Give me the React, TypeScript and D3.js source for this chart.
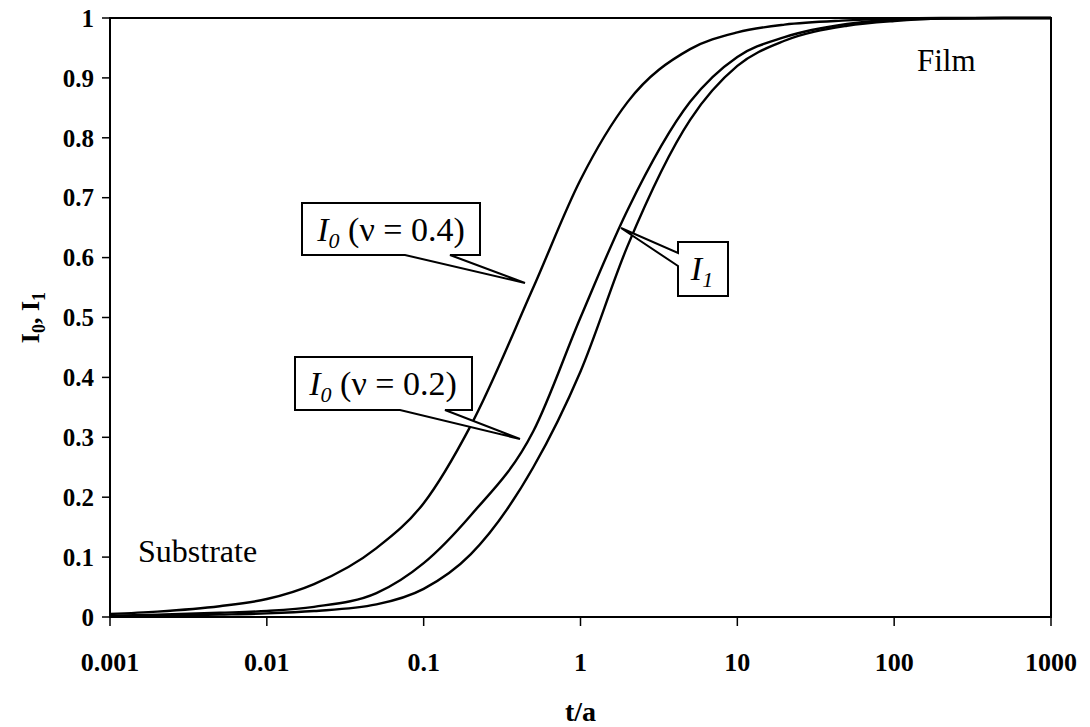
import React from "react";
import * as d3 from "d3";

const tValues = [0.001, 0.002, 0.005, 0.01, 0.02, 0.05, 0.1, 0.2, 0.5, 1, 2, 5, 10, 20, 50, 100, 200, 500, 1000];
const i0Nu04 = [0.005, 0.009, 0.018, 0.03, 0.055, 0.115, 0.19, 0.32, 0.55, 0.73, 0.86, 0.948, 0.976, 0.989, 0.996, 0.999, 1, 1, 1];
const i0Nu02 = [0.002, 0.004, 0.007, 0.01, 0.017, 0.04, 0.09, 0.17, 0.31, 0.5, 0.68, 0.86, 0.935, 0.968, 0.99, 0.997, 0.999, 1, 1];
const i1Vals = [0.001, 0.002, 0.004, 0.006, 0.01, 0.021, 0.047, 0.105, 0.25, 0.41, 0.62, 0.83, 0.92, 0.962, 0.987, 0.995, 0.999, 1, 1];

const xTicks = [0.001, 0.01, 0.1, 1, 10, 100, 1000];
const xTickLabels = ["0.001", "0.01", "0.1", "1", "10", "100", "1000"];
const yTicks = [0, 0.1, 0.2, 0.3, 0.4, 0.5, 0.6, 0.7, 0.8, 0.9, 1];
const yTickLabels = ["0", "0.1", "0.2", "0.3", "0.4", "0.5", "0.6", "0.7", "0.8", "0.9", "1"];

const W = 1090;
const H = 727;
const left = 110, right = 1051, top = 18, bottom = 617;
const FONT = "'Liberation Serif', 'Times New Roman', serif";

export default function App() {
  const x = d3.scaleLog().domain([0.001, 1000]).range([left, right]);
  const y = d3.scaleLinear().domain([0, 1]).range([bottom, top]);
  const line = d3
    .line<[number, number]>()
    .x((d) => x(d[0]))
    .y((d) => y(d[1]))
    .curve(d3.curveMonotoneX);
  const series = [i0Nu04, i0Nu02, i1Vals].map((vals) =>
    line(tValues.map((t, i) => [t, vals[i]] as [number, number])) || ""
  );

  const boxBottomWedge = (bx0: number, by0: number, bx1: number, by1: number, w0: number, w1: number, tx: number, ty: number) =>
    `M${bx0},${by0} L${bx1},${by0} L${bx1},${by1} L${w1},${by1} L${tx},${ty} L${w0},${by1} L${bx0},${by1} Z`;
  const boxLeftWedge = (bx0: number, by0: number, bx1: number, by1: number, w0: number, w1: number, tx: number, ty: number) =>
    `M${bx0},${by0} L${bx1},${by0} L${bx1},${by1} L${bx0},${by1} L${bx0},${w1} L${tx},${ty} L${bx0},${w0} Z`;

  return (
    <svg width={W} height={H} style={{ position: "absolute", left: 0, top: 0, background: "#fff" }} fontFamily={FONT}>
      <rect x={0} y={0} width={W} height={H} fill="#fff" />
      {series.map((d, i) => (
        <path key={i} d={d} fill="none" stroke="#000" strokeWidth={2.4} />
      ))}
      <rect x={left} y={top} width={right - left} height={bottom - top} fill="none" stroke="#000" strokeWidth={2} />
      {yTicks.map((v, i) => (
        <g key={"y" + i}>
          <line x1={left - 8} x2={left} y1={y(v)} y2={y(v)} stroke="#000" strokeWidth={1.5} />
          <text x={94} y={y(v)} dy="0.35em" textAnchor="end" fontSize={25} fontWeight="bold">
            {yTickLabels[i]}
          </text>
        </g>
      ))}
      {xTicks.map((v, i) => (
        <g key={"x" + i}>
          <line x1={x(v)} x2={x(v)} y1={bottom} y2={bottom + 9} stroke="#000" strokeWidth={1.5} />
          <text x={x(v)} y={662} dy="0.35em" textAnchor="middle" fontSize={26} fontWeight="bold">
            {xTickLabels[i]}
          </text>
        </g>
      ))}
      <text x={(left + right) / 2} y={711} dy="0.35em" textAnchor="middle" fontSize={28} fontWeight="bold">
        t/a
      </text>
      <text transform={`translate(30,${(top + bottom) / 2}) rotate(-90)`} textAnchor="middle" fontSize={26} fontWeight="bold" dy="0.35em">
        I<tspan fontSize={18} dy="6">0</tspan>
        <tspan dy="-6">, I</tspan>
        <tspan fontSize={18} dy="6">1</tspan>
      </text>
      <text x={138} y={551} dy="0.35em" fontSize={32}>Substrate</text>
      <text x={917} y={60} dy="0.35em" fontSize={31}>Film</text>

      <path d={boxBottomWedge(302, 203, 480, 255, 405, 450, 525, 283)} fill="#fff" stroke="#000" strokeWidth={2} strokeLinejoin="miter" />
      <text x={391} y={229} dy="0.35em" textAnchor="middle" fontSize={34}>
        <tspan fontStyle="italic">I</tspan>
        <tspan fontStyle="italic" fontSize={22} dy="7">0</tspan>
        <tspan dy="-7">{" (\u03bd = 0.4)"}</tspan>
      </text>

      <path d={boxBottomWedge(295, 357, 472, 410, 400, 445, 520, 439)} fill="#fff" stroke="#000" strokeWidth={2} strokeLinejoin="miter" />
      <text x={383} y={383} dy="0.35em" textAnchor="middle" fontSize={34}>
        <tspan fontStyle="italic">I</tspan>
        <tspan fontStyle="italic" fontSize={22} dy="7">0</tspan>
        <tspan dy="-7">{" (\u03bd = 0.2)"}</tspan>
      </text>

      <path d={boxLeftWedge(678, 242, 728, 296, 253, 266, 621, 228)} fill="#fff" stroke="#000" strokeWidth={2} strokeLinejoin="miter" />
      <text x={702} y={268} dy="0.35em" textAnchor="middle" fontSize={34}>
        <tspan fontStyle="italic">I</tspan>
        <tspan fontStyle="italic" fontSize={22} dy="7">1</tspan>
      </text>
    </svg>
  );
}
